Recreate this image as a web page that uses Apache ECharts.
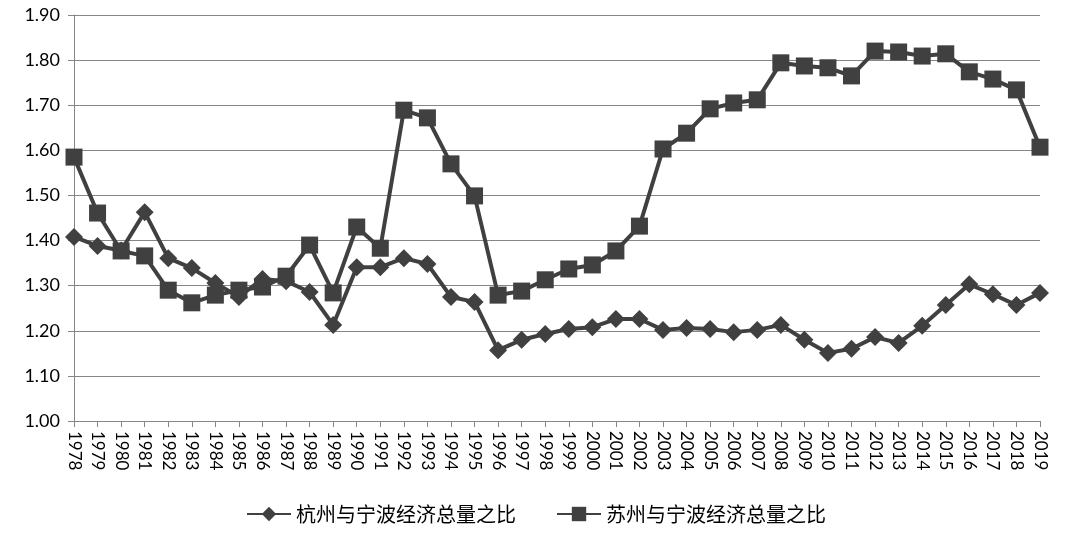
<!DOCTYPE html>
<html>
<head>
<meta charset="utf-8">
<script src="https://cdn.jsdelivr.net/npm/echarts@6/dist/echarts.min.js"></script>
<style>html,body{margin:0;padding:0;background:#fff}#c{width:1072px;height:539px}</style>
</head>
<body>
<div id="c"></div>
<script>
const years = ['1978','1979','1980','1981','1982','1983','1984','1985','1986','1987','1988','1989','1990','1991','1992','1993','1994','1995','1996','1997','1998','1999','2000','2001','2002','2003','2004','2005','2006','2007','2008','2009','2010','2011','2012','2013','2014','2015','2016','2017','2018','2019'];
const hangzhou = [1.408,1.388,1.378,1.463,1.361,1.339,1.306,1.275,1.315,1.310,1.286,1.213,1.341,1.341,1.361,1.348,1.275,1.264,1.157,1.180,1.193,1.204,1.208,1.226,1.226,1.202,1.206,1.204,1.197,1.202,1.213,1.180,1.151,1.160,1.186,1.173,1.211,1.257,1.303,1.281,1.257,1.284];
const suzhou = [1.585,1.461,1.377,1.366,1.290,1.262,1.279,1.290,1.297,1.321,1.390,1.284,1.430,1.383,1.689,1.672,1.570,1.499,1.279,1.288,1.313,1.337,1.346,1.377,1.432,1.603,1.638,1.692,1.705,1.712,1.794,1.787,1.783,1.765,1.820,1.818,1.809,1.814,1.774,1.758,1.734,1.607];
const seriesNames = ['杭州与宁波经济总量之比','苏州与宁波经济总量之比'];

const chart = echarts.init(document.getElementById('c'), null, {renderer:'canvas'});
const lineColor = '#404040';
chart.setOption({
  animation: false,
  backgroundColor: '#fff',
  grid: {left: 74, right: 32, top: 15, bottom: 118},
  legend: {
    bottom: 10, left: 'center',
    itemWidth: 44, itemHeight: 18, itemGap: 40,
    textStyle: {fontFamily: '"Noto Sans CJK SC", sans-serif', fontSize: 20, color: '#000'},
    data: seriesNames
  },
  xAxis: {
    type: 'category', data: years, boundaryGap: false,
    axisLine: {lineStyle: {color: '#868686', width: 1}},
    axisTick: {show: true, length: 6, interval: 0, lineStyle: {color: '#868686'}},
    axisLabel: {interval: 0, rotate: -90, margin: 10, fontFamily: 'Lato, sans-serif', fontSize: 17, color: '#000'},
    splitLine: {show: false}
  },
  yAxis: {
    type: 'value', min: 1, max: 1.9, interval: 0.1,
    axisLine: {show: true, lineStyle: {color: '#868686', width: 1}},
    axisTick: {show: true, length: 6, lineStyle: {color: '#868686'}},
    axisLabel: {formatter: v => v.toFixed(2), fontFamily: 'Lato, sans-serif', fontSize: 18, color: '#000', margin: 14},
    splitLine: {show: true, lineStyle: {color: '#868686', width: 1}}
  },
  series: [
    {name: seriesNames[0], type: 'line', data: hangzhou, symbol: 'diamond', symbolSize: 18,
     lineStyle: {color: lineColor, width: 4}, itemStyle: {color: lineColor}},
    {name: seriesNames[1], type: 'line', data: suzhou, symbol: 'rect', symbolSize: 17,
     lineStyle: {color: lineColor, width: 4}, itemStyle: {color: lineColor}}
  ]
});
</script>
</body>
</html>
